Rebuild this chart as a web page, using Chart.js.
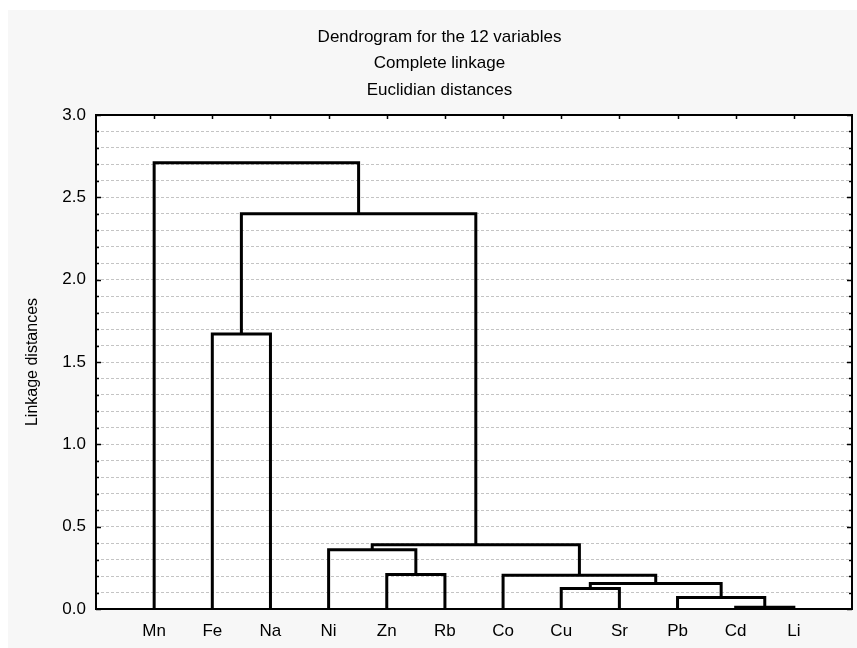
<!DOCTYPE html>
<html>
<head>
<meta charset="utf-8">
<script src="https://cdn.jsdelivr.net/npm/chart.js@4.4.1/dist/chart.umd.min.js"></script>
<style>
  html, body { margin: 0; padding: 0; background: #ffffff; }
  #wrap { width: 857px; height: 648px; }
</style>
</head>
<body>
<div id="wrap"><canvas id="dendrogramChart" width="857" height="648"></canvas></div>
<script>
// leaves in plotted order
var leaves = ['Mn', 'Fe', 'Na', 'Ni', 'Zn', 'Rb', 'Co', 'Cu', 'Sr', 'Pb', 'Cd', 'Li'];

// merges: node ids 0..11 are leaves, 12.. are the clusters made here, in order
var mergeA = [10, 9, 7, 14, 6, 4, 3, 18, 1, 20, 0];
var mergeB = [11, 12, 8, 13, 15, 5, 17, 16, 2, 19, 21];
var mergeHeight = [0.01, 0.07, 0.125, 0.155, 0.205, 0.21, 0.36, 0.39, 1.67, 2.40, 2.71];

var yTicksMajor = [0.0, 0.5, 1.0, 1.5, 2.0, 2.5, 3.0];

var titleLines = ['Dendrogram for the 12 variables', 'Complete linkage', 'Euclidian distances'];
var yTitle = 'Linkage distances';

Chart.defaults.font.family = '"Liberation Sans", Arial, sans-serif';
Chart.defaults.color = '#000000';

// node position = leaf index, cluster = middle of its two children
var nodeX = leaves.map(function (l, i) { return i + 1; });
var nodeY = leaves.map(function () { return 0; });
var datasets = [];
for (var i = 0; i < mergeHeight.length; i++) {
    var a = mergeA[i], b = mergeB[i], h = mergeHeight[i];
    datasets.push({
        data: [
            { x: nodeX[a], y: nodeY[a] },
            { x: nodeX[a], y: h },
            { x: nodeX[b], y: h },
            { x: nodeX[b], y: nodeY[b] }
        ],
        showLine: true,
        borderColor: '#000000',
        borderWidth: 3,
        pointRadius: 0,
        fill: false
    });
    nodeX.push((nodeX[a] + nodeX[b]) / 2);
    nodeY.push(h);
}

var framePlugin = {
    id: 'frame',
    beforeDraw: function (chart) {
        var ctx = chart.ctx, area = chart.chartArea;
        ctx.save();
        ctx.fillStyle = '#ffffff';
        ctx.fillRect(0, 0, chart.width, chart.height);
        ctx.fillStyle = '#f7f7f7';
        ctx.fillRect(8, 10, chart.width - 8, chart.height - 10);
        ctx.fillStyle = '#ffffff';
        ctx.fillRect(area.left, area.top, area.right - area.left, area.bottom - area.top);
        ctx.restore();
    },
    afterDraw: function (chart) {
        var ctx = chart.ctx, area = chart.chartArea;
        var ys = chart.scales.y, xs = chart.scales.x;
        ctx.save();
        ctx.strokeStyle = '#000000';
        ctx.lineWidth = 2;
        ctx.strokeRect(area.left, area.top, area.right - area.left, area.bottom - area.top);
        ctx.beginPath();
        ys.ticks.forEach(function (t) {
            var py = Math.round(ys.getPixelForValue(t.value)) + 0.5;
            var major = Math.round(t.value * 10) % 5 === 0;
            var len = major ? 5 : 3;
            ctx.moveTo(area.left, py); ctx.lineTo(area.left + len, py);
            ctx.moveTo(area.right, py); ctx.lineTo(area.right - len, py);
        });
        leaves.forEach(function (l, i) {
            var px = Math.round(xs.getPixelForValue(i + 1)) + 0.5;
            ctx.moveTo(px, area.top); ctx.lineTo(px, area.top + 4);
        });
        ctx.lineWidth = 1.5;
        ctx.stroke();
        ctx.restore();
    }
};

var ctxDendro = document.getElementById('dendrogramChart').getContext('2d');
var dendrogramChart = new Chart(ctxDendro, {
    type: 'scatter',
    data: { datasets: datasets },
    plugins: [framePlugin],
    options: {
        responsive: false,
        animation: false,
        layout: { padding: { left: 22, right: 0, top: 0, bottom: 0 } },
        plugins: {
            legend: { display: false },
            tooltip: { enabled: false },
            title: {
                display: true,
                text: titleLines,
                color: '#000000',
                font: { size: 17, weight: 'normal', lineHeight: 1.55 },
                padding: { top: 24, bottom: 0 }
            }
        },
        scales: {
            x: {
                type: 'linear',
                position: 'bottom',
                min: 0,
                max: leaves.length + 1,
                grid: { display: false, drawTicks: false },
                border: { display: false },
                afterBuildTicks: function (scale) {
                    scale.ticks = leaves.map(function (l, i) { return { value: i + 1 }; });
                },
                afterFit: function (scale) { scale.height = 39; },
                ticks: {
                    autoSkip: false,
                    maxRotation: 0,
                    padding: 12,
                    font: { size: 17 },
                    callback: function (v) { return leaves[v - 1]; }
                }
            },
            xTop: {
                type: 'linear',
                position: 'top',
                min: 0,
                max: leaves.length + 1,
                grid: { display: false, drawTicks: false },
                border: { display: false },
                ticks: { display: false },
                afterFit: function (scale) { scale.height = 115 - 24 - 3 * 17 * 1.55; }
            },
            y: {
                type: 'linear',
                min: 0,
                max: 3,
                grid: { color: '#c4c4c4', lineWidth: 1, drawTicks: false },
                border: { display: false, dash: [3, 2] },
                afterFit: function (scale) { scale.width = 74; },
                ticks: {
                    stepSize: 0.1,
                    maxTicksLimit: 100,
                    autoSkip: false,
                    padding: 10,
                    font: { size: 17 },
                    callback: function (v) {
                        var r = Math.round(v * 10) / 10;
                        return yTicksMajor.indexOf(r) >= 0 ? r.toFixed(1) : '';
                    }
                },
                title: {
                    display: true,
                    text: yTitle,
                    font: { size: 16 },
                    padding: { top: 1, bottom: 0 }
                }
            },
            yRight: {
                type: 'linear',
                position: 'right',
                min: 0,
                max: 3,
                grid: { display: false, drawTicks: false },
                border: { display: false },
                ticks: { display: false },
                afterFit: function (scale) { scale.width = 5; }
            }
        }
    }
});
</script>
</body>
</html>
